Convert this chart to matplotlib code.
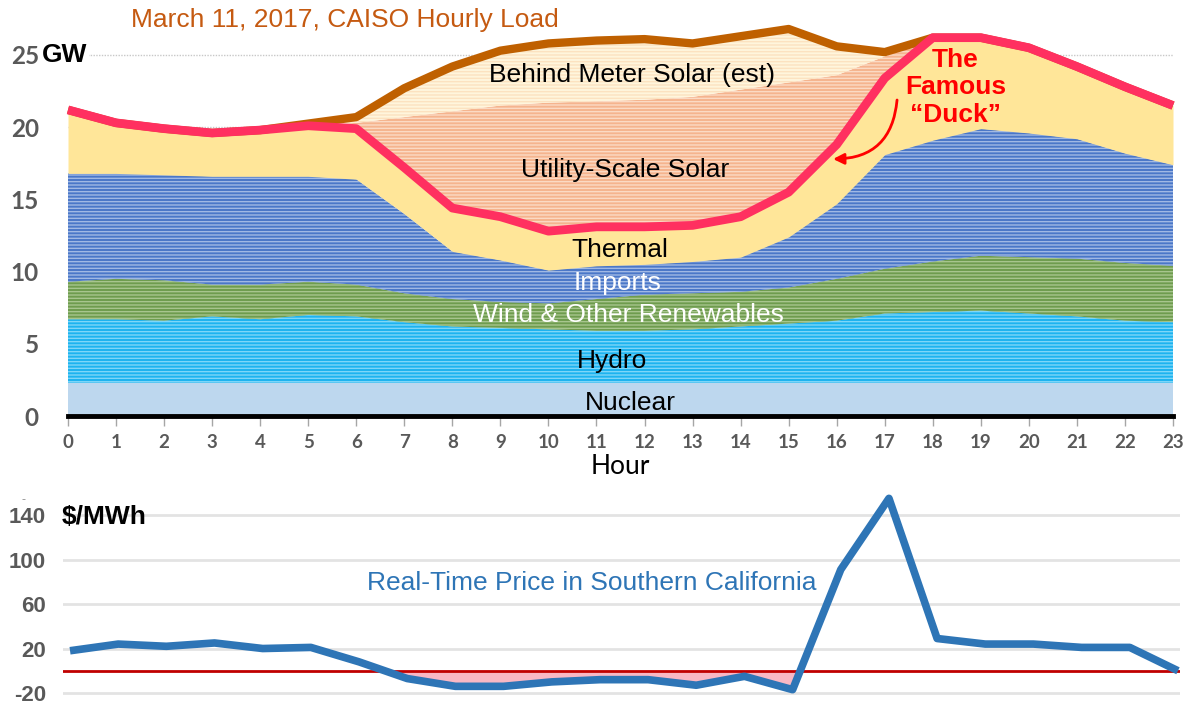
import matplotlib
matplotlib.use('Agg')
import matplotlib.pyplot as plt
import numpy as np

# ---------------- data ----------------
hours = list(range(24))
nuclear = [2.3, 2.3, 2.3, 2.3, 2.3, 2.3, 2.3, 2.3, 2.3, 2.3, 2.3, 2.3,
           2.3, 2.3, 2.3, 2.3, 2.3, 2.3, 2.3, 2.3, 2.3, 2.3, 2.3, 2.3]
hydro = [4.4, 4.4, 4.3, 4.6, 4.4, 4.7, 4.6, 4.2, 3.9, 3.8, 3.7, 3.6,
         3.6, 3.7, 3.9, 4.1, 4.3, 4.8, 4.9, 5.0, 4.8, 4.6, 4.3, 4.2]
wind = [2.6, 2.8, 2.8, 2.2, 2.4, 2.3, 2.2, 2.0, 1.9, 1.8, 1.8, 2.2,
        2.5, 2.5, 2.4, 2.5, 2.9, 3.1, 3.5, 3.8, 3.9, 4.0, 4.0, 3.9]
imports = [7.5, 7.3, 7.3, 7.5, 7.5, 7.3, 7.3, 5.5, 3.3, 2.9, 2.3, 2.3,
           2.1, 2.2, 2.4, 3.5, 5.2, 7.9, 8.4, 8.8, 8.6, 8.3, 7.6, 7.0]
thermal = [4.4, 3.5, 3.2, 3.0, 3.2, 3.5, 3.5, 3.2, 3.0, 3.0, 2.7, 2.7,
           2.6, 2.5, 2.8, 3.1, 4.1, 5.3, 7.1, 6.3, 5.9, 5.0, 4.6, 4.1]
utility_solar = [0, 0, 0, 0, 0, 0, 0.4, 3.5, 6.7, 7.7, 8.9, 8.7,
                 8.8, 8.9, 8.8, 7.6, 4.8, 1.5, 0, 0, 0, 0, 0, 0]
btm_solar = [0, 0, 0, 0, 0, 0.15, 0.4, 2.0, 3.1, 3.8, 4.1, 4.2,
             4.2, 3.7, 3.7, 3.7, 2.0, 0.3, 0, 0, 0, 0, 0, 0]
price = [18, 24, 22, 25, 20, 21, 8, -7, -14, -14, -10, -8,
         -8, -13, -5, -17, 91, 155, 29, 24, 24, 21, 21, 0]

gw_ticks = [0, 5, 10, 15, 20, 25]
price_ticks = [-20, 20, 60, 100, 140]

# ---------------- figure ----------------
W, H = 1190, 707
fig = plt.figure(figsize=(W / 100, H / 100), dpi=100)

ARIAL = ['Liberation Sans', 'DejaVu Sans']
CAL = ['Lato', 'DejaVu Sans']
GRAY = '#595959'

ax = fig.add_axes([68 / W, 1 - 416 / H, (1173 - 68) / W, (416 - 18.9) / H])
ax.set_xlim(0, 23)
ax.set_ylim(0, 27.5)

h = np.array(hours, dtype=float)
layers = [
    (nuclear, '#BDD7EE', None, None),
    (hydro, '#1DB3EF', '#7DD6F8', '-----'),
    (wind, '#6E9C4E', '#A7C58D', '-----'),
    (imports, '#4A77C8', '#A0B8E4', '-----'),
    (thermal, '#FFE699', None, None),
    (utility_solar, '#F5B48E', '#FBDAC4', '-----'),
    (btm_solar, '#FFF5DC', '#FCE2C0', '-----'),
]
base = np.zeros(len(h))
tops = []
for vals, fc, hc, hp in layers:
    top = base + np.array(vals, dtype=float)
    if hp:
        with plt.rc_context({'hatch.color': hc, 'hatch.linewidth': 1.0}):
            ax.fill_between(h, base, top, facecolor=fc, edgecolor=hc,
                            hatch=hp, linewidth=0, zorder=2)
    else:
        ax.fill_between(h, base, top, facecolor=fc, edgecolor=fc,
                        linewidth=0, zorder=2)
    tops.append(top)
    base = top

net_load = tops[4]
total_load = tops[6]

ax.plot(h, total_load, color='#BF6000', lw=6, solid_joinstyle='round',
        solid_capstyle='butt', zorder=4, clip_on=False)
ax.plot(h, net_load, color='#FF3060', lw=6.3, solid_joinstyle='round',
        solid_capstyle='butt', zorder=5, clip_on=False)

ax.set_axisbelow(True)
ax.set_yticks(gw_ticks)
ax.set_yticklabels([str(t) for t in gw_ticks], fontfamily=CAL,
                   fontweight='bold', fontsize=17.5, color=GRAY)
ax.tick_params(axis='y', length=0, pad=21)
ax.set_xticks(hours)
ax.set_xticklabels([str(t) for t in hours], fontfamily=CAL,
                   fontweight='bold', fontsize=13.5, color=GRAY)
ax.tick_params(axis='x', length=7, width=1, color='#A6A6A6', pad=6)
ax.yaxis.grid(True, linestyle=(0, (1, 1)), color='#C8C8C8', lw=1)
for s in ['top', 'right', 'left']:
    ax.spines[s].set_visible(False)
ax.spines['bottom'].set_color('black')
ax.spines['bottom'].set_linewidth(3.5)
ax.spines['bottom'].set_zorder(6)


def px2data(px, py):
    return (px - 68) / 48.04, (416 - py) / 14.44


lab = dict(fontfamily=ARIAL, fontsize=19, ha='center', va='center', zorder=7)
for txt, (px, py), col in [
    ('Behind Meter Solar (est)', (632, 75), 'black'),
    ('Utility-Scale Solar', (625, 170), 'black'),
    ('Thermal', (620, 250), 'black'),
    ('Imports', (618, 283), 'white'),
    ('Wind & Other Renewables', (628, 315), 'white'),
    ('Hydro', (612, 361), 'black'),
    ('Nuclear', (630, 403), 'black'),
]:
    x, y = px2data(px, py)
    ax.text(x, y, txt, color=col, **lab)

for txt, (px, py) in [('The', (955, 60)), ('Famous', (956, 87)),
                      ('\u201cDuck\u201d', (955, 115))]:
    x, y = px2data(px, py)
    ax.text(x, y, txt, color='#FF0000', fontweight='bold', **lab)

ax.annotate('', xy=px2data(833, 159), xytext=px2data(897, 100),
            arrowprops=dict(arrowstyle='-|>', color='#FF0000', lw=2,
                            mutation_scale=16,
                            connectionstyle='arc3,rad=-0.45',
                            shrinkA=0, shrinkB=0), zorder=7)

fig.text(345 / W, 1 - 20 / H, 'March 11, 2017, CAISO Hourly Load',
         color='#C55A11', fontsize=19, fontfamily=ARIAL,
         ha='center', va='center')
fig.text(42 / W, 1 - 55 / H, 'GW', color='black', fontsize=19,
         fontweight='bold', fontfamily=ARIAL, ha='left', va='center',
         bbox=dict(facecolor='white', edgecolor='none', pad=1))
fig.text(620 / W, 1 - 467 / H, 'Hour', color='black', fontsize=19,
         fontfamily=CAL, ha='center', va='center')

# ---------------- price panel ----------------
ax2 = fig.add_axes([62.8 / W, 1 - 700.8 / H, (1180.4 - 62.8) / W, 208 / H])
ax2.set_xlim(-0.15, 23.05)
ax2.set_ylim(-27, 160)
ax2.set_axisbelow(True)
ax2.set_yticks(price_ticks)
ax2.set_yticklabels([str(t) for t in price_ticks], fontfamily=ARIAL,
                    fontweight='bold', fontsize=16, color=GRAY)
ax2.tick_params(axis='y', length=0, pad=12)
ax2.set_xticks([])
ax2.yaxis.grid(True, color='#E3E3E3', lw=2)
for s in ax2.spines.values():
    s.set_visible(False)

p = np.array(price, dtype=float)
ax2.fill_between(h, p, 0, where=p < 0, interpolate=True,
                 facecolor='#F9B8C4', edgecolor='none', zorder=2)
ax2.axhline(0, color='#C00000', lw=2, zorder=3)
ax2.plot(h, p, color='#2E75B6', lw=5.5, solid_joinstyle='round',
         solid_capstyle='butt', zorder=4)

fig.text(62 / W, 1 - 517 / H, '$/MWh', color='black', fontsize=19,
         fontweight='bold', fontfamily=ARIAL, ha='left', va='center')
fig.text(592 / W, 1 - 583 / H, 'Real-Time Price in Southern California',
         color='#2E75B6', fontsize=19, fontfamily=ARIAL,
         ha='center', va='center')
fig.text(24 / W, 1 - 500 / H, '-', color='#909090', fontsize=9,
         fontfamily=ARIAL, ha='center', va='center')

fig.savefig('out.png', dpi=100)
